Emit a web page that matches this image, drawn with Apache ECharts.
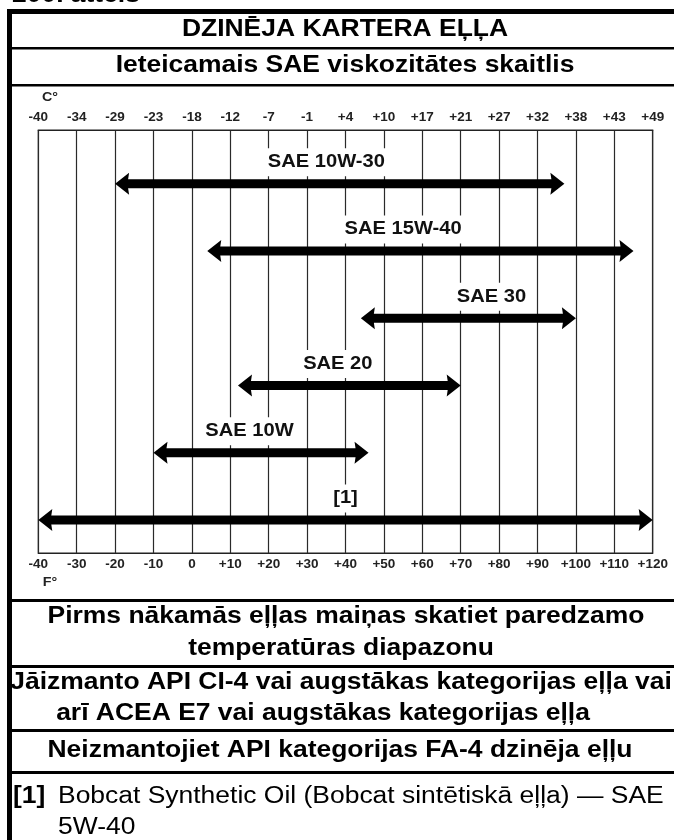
<!DOCTYPE html>
<html>
<head>
<meta charset="utf-8">
<title>Dzinēja kartera eļļa</title>
<script src="https://cdn.jsdelivr.net/npm/echarts@6/dist/echarts.min.js"></script>
<style>
  html, body { margin: 0; padding: 0; background: #fff; }
  #chart { width: 674px; height: 840px; }
</style>
</head>
<body>
<div id="chart"></div>
<script>
// Viscosity grades and their recommended ambient temperature ranges (°F)
const grades = ['SAE 10W-30', 'SAE 15W-40', 'SAE 30', 'SAE 20', 'SAE 10W', '[1]'];
const lowF = [-20, 4, 44, 12, -10, -40];
const highF = [97, 115, 100, 70, 46, 120];

// Tick labels for both temperature scales
const fahrenheitLabels = ['-40', '-30', '-20', '-10', '0', '+10', '+20', '+30', '+40',
  '+50', '+60', '+70', '+80', '+90', '+100', '+110', '+120'];
const celsiusLabels = ['-40', '-34', '-29', '-23', '-18', '-12', '-7', '-1', '+4',
  '+10', '+17', '+21', '+27', '+32', '+38', '+43', '+49'];

// Where each grade name sits along the scale (°F) and how far above its arrow
const labelCenterF = [35, 55, 78, 38, 15, 40];
const labelLift = 0.32;

const FONT = '"Liberation Sans", Arial, Helvetica, sans-serif';
const STRETCH = 1.15;

function tickLabel(list, v) {
  return list[Math.round((v + 40) / 10)] || '';
}

function txt(text, x, y, o) {
  o = o || {};
  return {
    type: 'text',
    x: x, y: y,
    scaleX: o.scaleX || STRETCH,
    z: 10,
    style: {
      text: text,
      x: 0, y: 0,
      align: o.align || 'center',
      verticalAlign: o.va || 'middle',
      font: (o.weight || 'bold') + ' ' + (o.size || 23) + 'px ' + FONT,
      fill: o.color || '#000'
    }
  };
}

function bar(x, y, w, h) {
  return { type: 'rect', z: 10, shape: { x: x, y: y, width: w, height: h }, style: { fill: '#000' } };
}

function renderArrow(params, api) {
  const i = params.dataIndex;
  const row = api.value(2);
  const a = api.coord([api.value(0), row]);
  const b = api.coord([api.value(1), row]);
  const y = a[1], x1 = a[0], x2 = b[0];
  const sh = 4.5, hh = 11, hl = 14;
  const pts = [
    [x1, y], [x1 + hl, y - hh], [x1 + hl - 1, y - sh], [x2 - hl + 1, y - sh], [x2 - hl, y - hh],
    [x2, y], [x2 - hl, y + hh], [x2 - hl + 1, y + sh], [x1 + hl - 1, y + sh], [x1 + hl, y + hh]
  ];
  const lp = api.coord([labelCenterF[i], row - labelLift]);
  return {
    type: 'group',
    children: [
      { type: 'polygon', shape: { points: pts }, style: { fill: '#000' } },
      {
        type: 'text', x: lp[0], y: lp[1], scaleX: STRETCH,
        style: {
          text: grades[i], x: 0, y: 0, align: 'center', verticalAlign: 'middle',
          font: 'bold 17.5px ' + FONT, fill: '#111',
          backgroundColor: '#fff', padding: [5, 3]
        }
      }
    ]
  };
}

const chart = echarts.init(document.getElementById('chart'), null, { renderer: 'canvas' });

const axisLabelStyle = { fontFamily: FONT, fontWeight: 'bold', fontSize: 13.5, color: '#222' };

chart.setOption({
  animation: false,
  backgroundColor: '#fff',
  grid: {
    left: 38.3, right: 21.3, top: 130, bottom: 287,
    show: true, borderColor: '#222', borderWidth: 1.2
  },
  xAxis: [
    {
      type: 'value', position: 'bottom', min: -40, max: 120, interval: 10,
      axisLine: { show: true, onZero: false, lineStyle: { color: '#222', width: 1.2 } },
      axisTick: { show: false },
      axisLabel: Object.assign({ margin: 4, formatter: v => tickLabel(fahrenheitLabels, v) }, axisLabelStyle),
      splitLine: { show: true, lineStyle: { color: '#2a2a2a', width: 1.2 } }
    },
    {
      type: 'value', position: 'top', min: -40, max: 120, interval: 10,
      axisLine: { show: true, onZero: false, lineStyle: { color: '#222', width: 1.2 } },
      axisTick: { show: false },
      axisLabel: Object.assign({ margin: 6, formatter: v => tickLabel(celsiusLabels, v) }, axisLabelStyle),
      splitLine: { show: false }
    }
  ],
  yAxis: {
    type: 'value', min: -0.8, max: 5.49, inverse: true, show: false,
    splitLine: { show: false }
  },
  series: [{
    type: 'custom',
    renderItem: renderArrow,
    encode: { x: [0, 1], y: 2 },
    data: grades.map((g, i) => [lowF[i], highF[i], i]),
    z: 5
  }],
  graphic: [
    // frame: thick left and top borders, row separators
    bar(7, 9, 5, 831),
    bar(7, 9, 667, 5),
    bar(12, 47, 662, 2.5),
    bar(12, 84, 662, 2.5),
    bar(12, 599, 662, 3),
    bar(12, 665, 662, 3),
    bar(12, 729, 662, 3),
    bar(12, 771, 662, 3),

    txt('200. attēls', 12, 7, { align: 'left', va: 'bottom' }),
    txt('DZINĒJA KARTERA EĻĻA', 345, 30),
    txt('Ieteicamais SAE viskozitātes skaitlis', 345, 66),
    txt('C°', 50, 97, { size: 13, color: '#222', scaleX: 1.1 }),
    txt('F°', 50, 582, { size: 13, color: '#222', scaleX: 1.1 }),
    txt('Pirms nākamās eļļas maiņas skatiet paredzamo', 346, 617),
    txt('temperatūras diapazonu', 341, 649),
    txt('Jāizmanto API CI-4 vai augstākas kategorijas eļļa vai', 341, 683),
    txt('arī ACEA E7 vai augstākas kategorijas eļļa', 323, 714),
    txt('Neizmantojiet API kategorijas FA-4 dzinēja eļļu', 340, 751),
    txt('[1]', 13, 797, { align: 'left' }),
    txt('Bobcat Synthetic Oil (Bobcat sintētiskā eļļa) — SAE', 58, 797, { align: 'left', weight: 'normal' }),
    txt('5W-40', 58, 828, { align: 'left', weight: 'normal' })
  ]
});
</script>
</body>
</html>
